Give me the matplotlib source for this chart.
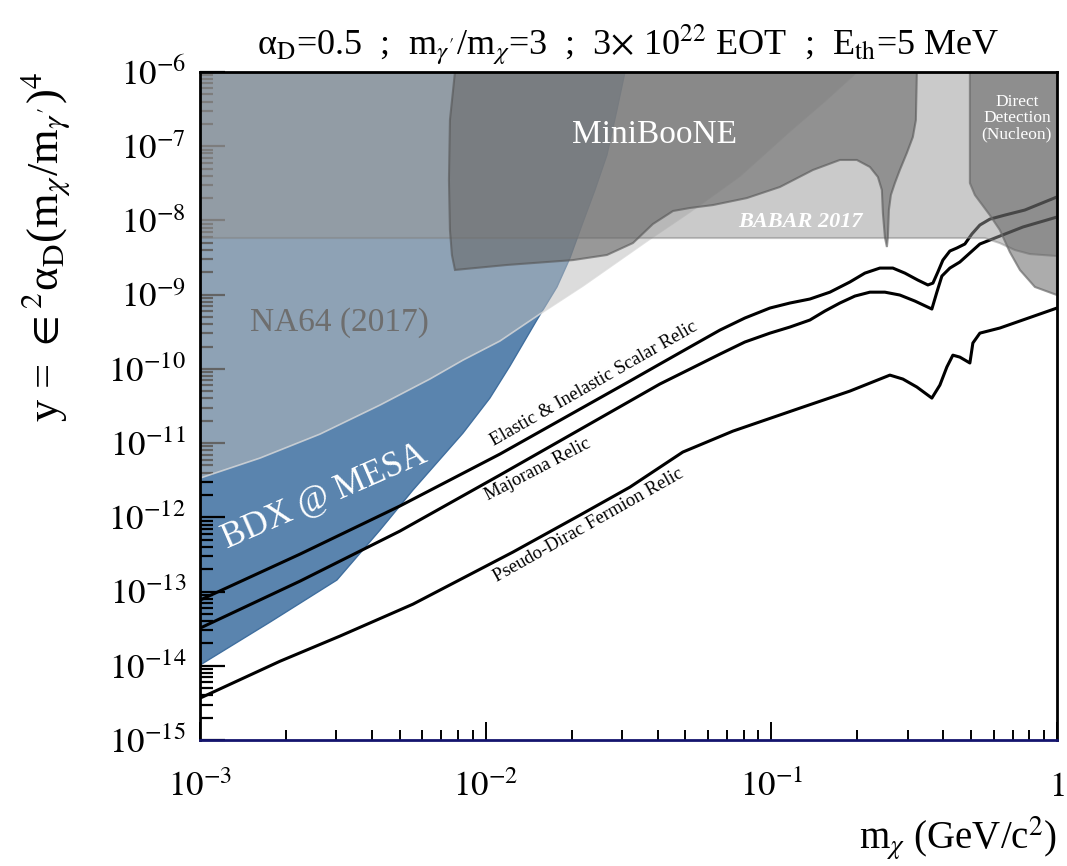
import numpy as np
import matplotlib
matplotlib.use("Agg")
import matplotlib.pyplot as plt
from matplotlib.ticker import LogLocator, NullFormatter

plt.rcParams['font.family'] = 'serif'
plt.rcParams['font.serif'] = ['Liberation Serif', 'DejaVu Serif']
plt.rcParams['mathtext.fontset'] = 'stix'

# ---- data (m_chi in GeV, y) ----
xmin, xmax = 1e-3, 1.0
ymin, ymax = 1e-15, 1e-6

# BDX @ MESA reach (lower edge)
bdx_m = [1.0e-3, 1.758e-3, 3.016e-3, 4.266e-3, 5.566e-3, 8.326e-3, 1.035e-2, 1.216e-2,
         1.511e-2, 1.777e-2, 1.973e-2, 2.173e-2, 2.413e-2, 2.658e-2, 2.881e-2, 3.074e-2]
bdx_y = [1.02e-14, 3.87e-14, 1.43e-13, 6.71e-13, 2.33e-12, 1.36e-11, 4.04e-11, 1.09e-10,
         4.55e-10, 1.27e-9, 3.11e-9, 8.67e-9, 2.57e-8, 7.61e-8, 3.08e-7, 1.0e-6]

# NA64 (2017)
na64_m = [1.0e-3, 1.622e-3, 2.63e-3, 4.266e-3, 6.38e-3, 8.326e-3, 1.122e-2, 1.549e-2,
          2.191e-2, 3.76e-2, 5.19e-2, 7.76e-2, 0.1162, 0.154, 0.1993]
na64_y = [3.37e-12, 6.28e-12, 1.32e-11, 3.25e-11, 7.29e-11, 1.31e-10, 2.37e-10, 5.48e-10,
          1.31e-9, 5.61e-9, 1.30e-8, 3.96e-8, 1.60e-7, 4.06e-7, 1.0e-6]

# BaBar 2017
babar_m = [1.0e-3, 0.559, 0.631, 0.712, 0.804, 1.0]
babar_y = [5.79e-9, 5.79e-9, 4.95e-9, 3.99e-9, 3.52e-9, 3.31e-9]

# MiniBooNE
mb_m = [7.81e-3, 7.50e-3, 7.44e-3, 7.50e-3, 7.62e-3, 7.81e-3, 1.187e-2, 2.021e-2, 2.658e-2,
        3.28e-2, 3.85e-2, 4.53e-2, 5.19e-2, 6.25e-2, 8.21e-2, 0.1072, 0.1399, 0.1738, 0.1993,
        0.2214, 0.2361, 0.2438, 0.2458, 0.2498, 0.2539, 0.2559, 0.2580, 0.2622, 0.2708,
        0.2818, 0.2982, 0.3130, 0.3207, 0.3233]
mb_y = [1e-6, 2.25e-7, 3.50e-8, 7.43e-9, 3.42e-9, 2.15e-9, 2.51e-9, 2.92e-9, 3.42e-9,
        4.96e-9, 8.94e-9, 1.34e-8, 1.47e-8, 1.61e-8, 2.00e-8, 2.82e-8, 4.78e-8, 6.52e-8, 6.52e-8,
        5.25e-8, 3.85e-8, 2.57e-8, 1.26e-8, 5.97e-9, 4.38e-9, 5.97e-9, 1.38e-8, 2.20e-8, 3.19e-8,
        4.78e-8, 8.10e-8, 1.33e-7, 2.25e-7, 1e-6]

# Direct detection (nucleon)
dd_m = [0.4956, 0.4956, 0.516, 0.582, 0.631, 0.684, 0.742, 0.837, 1.0]
dd_y = [1e-6, 3.19e-8, 2.20e-8, 1.18e-8, 7.43e-9, 3.75e-9, 2.15e-9, 1.27e-9, 9.88e-10]

# relic targets
scalar_m = [1.0e-3, 2.239e-3, 5.01e-3, 1.122e-2, 3.199e-2, 4.07e-2, 5.19e-2, 6.61e-2, 8.08e-2,
            9.89e-2, 0.1162, 0.1365, 0.1604, 0.1884, 0.2126, 0.2399, 0.2664, 0.2935, 0.3259,
            0.3533, 0.3679, 0.3829, 0.3987, 0.4218, 0.4463, 0.4760, 0.5036, 0.5372, 0.582,
            0.6572, 0.7718, 1.0]
scalar_y = [7.66e-14, 3.19e-13, 1.42e-12, 7.11e-12, 6.85e-11, 1.16e-10, 1.97e-10, 3.33e-10,
            4.84e-10, 6.60e-10, 7.71e-10, 8.73e-10, 1.08e-9, 1.48e-9, 1.95e-9, 2.28e-9, 2.28e-9,
            1.95e-9, 1.57e-9, 1.35e-9, 1.43e-9, 2.02e-9, 2.92e-9, 3.87e-9, 4.25e-9, 4.81e-9,
            6.56e-9, 8.67e-9, 1.04e-8, 1.18e-8, 1.38e-8, 2.07e-8]

majorana_m = [1.0e-3, 2.239e-3, 5.01e-3, 1.122e-2, 3.199e-2, 4.07e-2, 5.19e-2, 6.61e-2,
              8.08e-2, 9.89e-2, 0.1162, 0.1365, 0.154, 0.1738, 0.1962, 0.2214, 0.2498, 0.2818,
              0.3181, 0.3648, 0.3798, 0.3955, 0.4218, 0.4571, 0.4956, 0.5372, 0.6063, 0.7598,
              1.0]
majorana_y = [3.21e-14, 1.38e-13, 6.52e-13, 3.71e-12, 3.68e-11, 6.24e-11, 9.93e-11, 1.58e-10,
              2.30e-10, 3.03e-10, 3.66e-10, 4.55e-10, 6.01e-10, 7.71e-10, 9.57e-10, 1.08e-9,
              1.08e-9, 9.88e-10, 8.20e-10, 6.40e-10, 1.08e-9, 1.78e-9, 2.28e-9, 2.75e-9,
              3.64e-9, 4.81e-9, 5.79e-9, 8.15e-9, 1.11e-8]

pdirac_m = [1.0e-3, 1.905e-3, 3.09e-3, 5.566e-3, 1.246e-2, 2.138e-2, 3.199e-2, 4.90e-2,
            7.34e-2, 0.1259, 0.1884, 0.2601, 0.2888, 0.3233, 0.3648, 0.3892, 0.4117, 0.4321,
            0.4571, 0.4956, 0.5077, 0.5372, 0.631, 1.0]
pdirac_y = [3.66e-15, 1.15e-14, 2.51e-14, 6.76e-14, 3.40e-13, 1.07e-12, 2.55e-12, 7.57e-12,
            1.45e-11, 2.96e-11, 5.02e-11, 8.24e-11, 7.29e-11, 5.69e-11, 4.04e-11, 6.05e-11,
            1.06e-10, 1.53e-10, 1.44e-10, 1.20e-10, 2.23e-10, 3.03e-10, 3.55e-10, 6.60e-10]

yticks = [1e-15, 1e-14, 1e-13, 1e-12, 1e-11, 1e-10, 1e-9, 1e-8, 1e-7, 1e-6]
ylabels = [r'$10^{-15}$', r'$10^{-14}$', r'$10^{-13}$', r'$10^{-12}$', r'$10^{-11}$',
           r'$10^{-10}$', r'$10^{-9}$', r'$10^{-8}$', r'$10^{-7}$', r'$10^{-6}$']
xticks = [1e-3, 1e-2, 1e-1, 1.0]
xlabels = [r'$10^{-3}$', r'$10^{-2}$', r'$10^{-1}$', r'$1$']

fig = plt.figure(figsize=(10.67, 8.66), dpi=100)
ax = fig.add_axes([0.1874, 0.1455, 0.8032, 0.7714])
ax.set_xscale('log')
ax.set_yscale('log')

# regions
ax.fill([xmin] + bdx_m, [ymax] + bdx_y, facecolor='#5a84ae',
        edgecolor='#3f6e9e', lw=1.0, zorder=1)
ax.fill([xmin] + na64_m, [ymax] + na64_y, facecolor=(189/255, 189/255, 189/255, 0.53),
        edgecolor=(0.86, 0.86, 0.86, 0.8), lw=1.2, zorder=2)

ax.plot(scalar_m, scalar_y, color='black', lw=2.2, zorder=3)
ax.plot(majorana_m, majorana_y, color='black', lw=2.2, zorder=3)
ax.plot(pdirac_m, pdirac_y, color='black', lw=2.2, zorder=3)

ax.fill([xmin] + babar_m + [xmax], [ymax] + babar_y + [ymax],
        facecolor=(151/255, 151/255, 151/255, 0.51),
        edgecolor=(0.5, 0.5, 0.5, 0.45), lw=1.5, zorder=4)
ax.fill(mb_m, mb_y, facecolor=(104/255, 104/255, 104/255, 0.58),
        edgecolor=(0.33, 0.33, 0.33, 0.6), lw=1.5, zorder=5)
ax.fill(dd_m + [xmax], dd_y + [ymax], facecolor=(66/255, 66/255, 66/255, 0.434),
        edgecolor=(0.42, 0.42, 0.42, 0.7), lw=1.5, zorder=6)

# labels inside plot
ax.text(3.91e-2, 1.42e-7, 'MiniBooNE', color='white', fontsize=24,
        ha='center', va='center', zorder=10)
ax.text(3.09e-3, 4.14e-10, 'NA64 (2017)', color='#6e6e6e', fontsize=24,
        ha='center', va='center', zorder=10)
ax.text(2.74e-3, 1.87e-12, 'BDX @ MESA', color='white', fontsize=25, rotation=23.5,
        ha='center', va='center', rotation_mode='anchor', zorder=10)
ax.text(0.127, 9.51e-9, 'BABAR 2017', color='white', fontsize=16, fontweight='bold',
        fontstyle='italic', ha='center', va='center', zorder=10)
ax.text(0.724, 2.40e-7, 'Direct\nDetection\n(Nucleon)', color='white', fontsize=12.5,
        ha='center', va='center', linespacing=1.0, zorder=10)
ax.text(2.39e-2, 6.3e-11, 'Elastic & Inelastic Scalar Relic', fontsize=13.5, rotation=29.7,
        ha='center', va='center', rotation_mode='anchor', zorder=10)
ax.text(1.52e-2, 4.4e-12, 'Majorana Relic', fontsize=13.5, rotation=27.5,
        ha='center', va='center', rotation_mode='anchor', zorder=10)
ax.text(2.30e-2, 7.9e-13, 'Pseudo-Dirac Fermion Relic', fontsize=13.5, rotation=29.4,
        ha='center', va='center', rotation_mode='anchor', zorder=10)

ax.set_xlim(xmin, xmax)
ax.set_ylim(ymin, ymax)

ax.set_yticks(yticks)
ax.set_yticklabels(ylabels)
ax.set_xticks(xticks)
ax.set_xticklabels(xlabels)
ax.xaxis.set_minor_locator(LogLocator(base=10, subs=np.arange(2, 10), numticks=20))
ax.yaxis.set_minor_locator(LogLocator(base=10, subs=np.arange(2, 10), numticks=20))
ax.xaxis.set_minor_formatter(NullFormatter())
ax.yaxis.set_minor_formatter(NullFormatter())

ax.tick_params(axis='y', which='major', direction='in', length=18, width=1.6,
               labelsize=25, pad=10, right=False)
ax.tick_params(axis='y', which='minor', direction='in', length=9, width=1.6, right=False)
ax.tick_params(axis='x', which='major', direction='in', length=13, width=1.4,
               labelsize=25, pad=22, top=False)
ax.tick_params(axis='x', which='minor', direction='in', length=7, width=1.4, top=False)

for s in ax.spines.values():
    s.set_linewidth(2.0)
    s.set_zorder(20)
ax.spines['bottom'].set_color('#14146e')

ax.set_title(r"α$_{\mathrm{D}}$=0.5  ;  m$_{\gamma'}$/m$_{\chi}$=3  ;  3$\times$ 10$^{22}$ EOT  ;  E$_{\mathrm{th}}$=5 MeV",
             fontsize=26, pad=12)
ax.set_xlabel(r'm$_{\chi}$ (GeV/c$^{2}$)', fontsize=28, loc='right', labelpad=8)
ax.set_ylabel(r"y = $\in^{2}$α$_{\mathrm{D}}$(m$_{\chi}$/m$_{\gamma'}$)$^{4}$", fontsize=32,
              loc='top', labelpad=26)

fig.savefig('out.png', dpi=100)
